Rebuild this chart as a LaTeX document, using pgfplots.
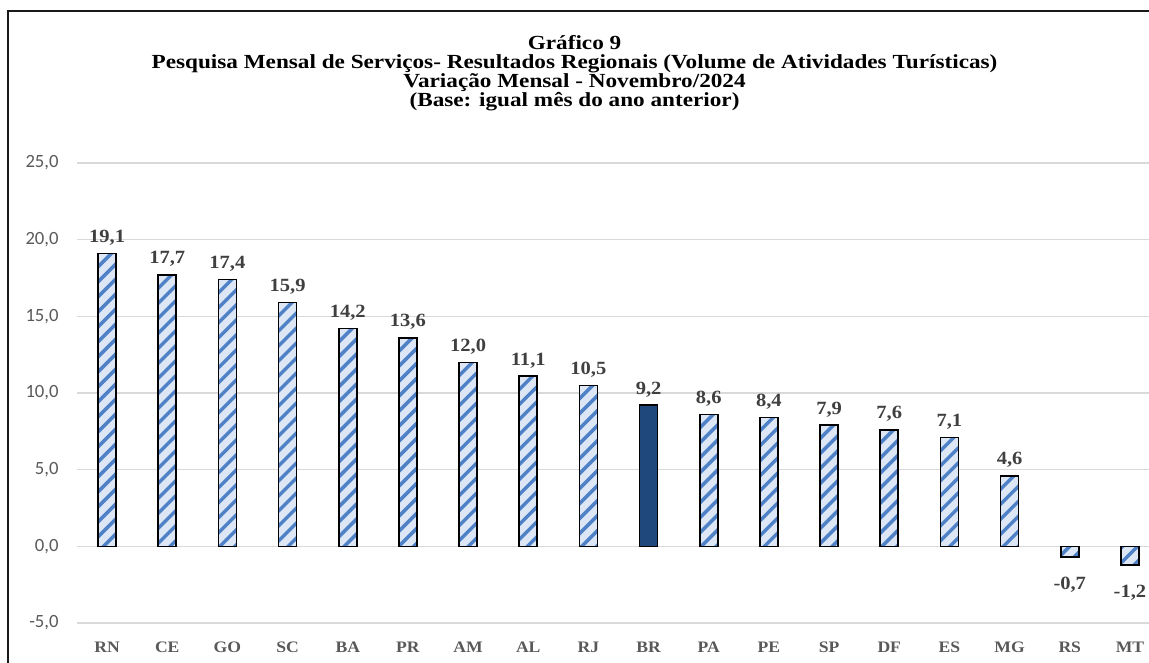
\documentclass[border=0pt]{standalone}
\usepackage{pgfplots}
\pgfplotsset{compat=1.18}
\usepackage{fontspec}
\setmainfont{Liberation Serif}[FakeStretch=1.1]
\newfontfamily\titlefont{Liberation Serif}[FakeStretch=1.16]
\newfontfamily\tickfont{Carlito}
\definecolor{stripe}{HTML}{4F81C7}
\definecolor{lightbg}{HTML}{DCE6F4}
\definecolor{brblue}{HTML}{1F497D}
\definecolor{labgray}{HTML}{404040}
\definecolor{catgray}{HTML}{595959}
\definecolor{tickgray}{HTML}{595959}
\definecolor{gridgray}{HTML}{D9D9D9}

\newcommand\yv{0}
\pgfdeclareplotmark{hatchbar}{%
  \pgfmathsetmacro\hh{-(\yv)*11.5}%
  \begin{pgfscope}%
    \pgfpathrectanglecorners{\pgfpoint{-6.75pt}{0pt}}{\pgfpoint{6.75pt}{\hh pt}}%
    \pgfsetfillcolor{lightbg}%
    \pgfusepath{fill,clip}%
    \pgfsetstrokecolor{stripe}%
    \pgfsetlinewidth{2.6pt}%
    \foreach \k in {-25,...,25}{%
      \pgfpathmoveto{\pgfpoint{-8pt}{\k*11.25pt}}%
      \pgfpathlineto{\pgfpoint{8pt}{\k*11.25pt+16pt}}%
      \pgfusepath{stroke}%
    }%
  \end{pgfscope}%
  \begin{pgfscope}%
    \pgfsetstrokecolor{black}%
    \pgfsetlinewidth{1.2pt}%
    \pgfpathrectanglecorners{\pgfpoint{-6.75pt}{0pt}}{\pgfpoint{6.75pt}{\hh pt}}%
    \pgfusepath{stroke}%
  \end{pgfscope}%
}

\pgfplotstableread{
x y
0 19.1
1 17.7
2 17.4
3 15.9
4 14.2
5 13.6
6 12.0
7 11.1
8 10.5
10 8.6
11 8.4
12 7.9
13 7.6
14 7.1
15 4.6
}\pos
\pgfplotstableread{
x y
9 9.2
}\br
\pgfplotstableread{
x y
16 -0.7
17 -1.2
}\neg

\begin{document}
\begin{tikzpicture}
\useasboundingbox (0,0) rectangle (861.75pt,-497.25pt);
\draw[line width=1.5pt, black!90] (6.2pt,-500pt) -- (6.2pt,-8.25pt) -- (870pt,-8.25pt);
\tikzset{ttl/.style={anchor=base, font=\titlefont\bfseries\fontsize{15}{15}\selectfont}}
\node[ttl] at (430.9pt,-37.5pt) {Gráfico 9};
\node[ttl] at (430.9pt,-51.75pt) {Pesquisa Mensal de Serviços- Resultados Regionais (Volume de Atividades Turísticas)};
\node[ttl] at (430.9pt,-66pt) {Variação Mensal - Novembro/2024};
\node[ttl] at (430.9pt,-80.25pt) {(Base: igual mês do ano anterior)};
\begin{axis}[
  at={(57.75pt,-467.25pt)}, anchor=south west,
  scale only axis, width=812.25pt, height=345pt,
  xmin=-0.5, xmax=17.5, ymin=-5, ymax=25,
  clip=false,
  axis line style={draw=none},
  major tick length=0pt,
  ymajorgrids, grid style={gridgray, line width=1pt},
  ytick={-5,0,5,10,15,20,25},
  xtick={0,...,17},
  xticklabels={RN,CE,GO,SC,BA,PR,AM,AL,RJ,BR,PA,PE,SP,DF,ES,MG,RS,MT},
  /pgf/number format/.cd, assume math mode=true, use comma, fixed, fixed zerofill, precision=1,
  /pgfplots/.cd,
  yticklabel style={font=\tickfont\fontsize{14}{14}\selectfont, text=tickgray, xshift=-10.3pt},
  xticklabel style={font=\bfseries\fontsize{12}{12}\selectfont, text=catgray, yshift=-11pt},
  nodes near coords,
  point meta=y,
]
\addplot[only marks, mark=hatchbar, visualization depends on={rawy \as \yv},
  every node near coord/.append style={anchor=base, yshift=8.3pt, inner sep=0pt, font=\bfseries\fontsize{14}{14}\selectfont, text=labgray}]
  table[x=x,y=y]{\pos};
\addplot[ybar, bar width=13.5pt, bar shift=0pt, fill=brblue, draw=black, line width=1.2pt,
  every node near coord/.append style={anchor=base, yshift=8.3pt, inner sep=0pt, font=\bfseries\fontsize{14}{14}\selectfont, text=labgray}]
  table[x=x,y=y]{\br};
\addplot[only marks, mark=hatchbar, visualization depends on={rawy \as \yv},
  every node near coord/.append style={anchor=north, yshift=-15pt, inner sep=0pt, font=\bfseries\fontsize{14}{14}\selectfont, text=labgray}]
  table[x=x,y=y]{\neg};
\end{axis}
\end{tikzpicture}
\end{document}
